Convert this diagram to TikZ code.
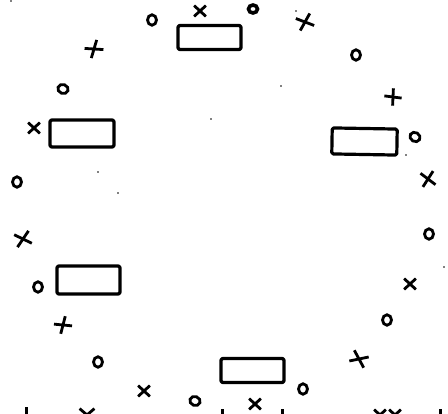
\documentclass[tikz,border=0pt]{standalone}
\usetikzlibrary{shapes.geometric,shapes.misc}
\begin{document}
\begin{tikzpicture}[x=1pt,y=-1pt,
  tablebox/.style={draw,line width=3.2pt,rounded corners=1.5pt,inner sep=0pt,line join=round},
  omark/.style={draw,ellipse,line width=2.8pt,minimum width=9pt,minimum height=10.5pt,inner sep=0pt},
  xmark/.style={draw,cross out,line width=2.8pt,minimum width=9pt,minimum height=8pt,inner sep=0pt},
  speck/.style={fill,circle,inner sep=0pt,minimum size=1.8pt}]
\useasboundingbox (0,0) rectangle (448,414);
\clip (0,0) rectangle (448,414);
% tables
\node[tablebox,minimum width=63pt,minimum height=24pt] (t1) at (209.5,37.5) {};
\node[tablebox,minimum width=64pt,minimum height=27pt] (t2) at (82,133.5) {};
\node[tablebox,minimum width=65pt,minimum height=26pt,rotate=-1] (t3) at (364.5,141.5) {};
\node[tablebox,minimum width=63pt,minimum height=28pt] (t4) at (88.5,280) {};
\node[tablebox,minimum width=63pt,minimum height=24pt] (t5) at (252.5,370.5) {};
% o marks
\node[omark] (o1) at (152,20) {};
\node[omark,line width=3.6pt,minimum width=9pt,minimum height=8pt] (o2) at (253,9) {};
\node[omark] (o3) at (356,55) {};
\node[omark,rotate=70] (o4) at (63,89) {};
\node[omark,rotate=60] (o5) at (415,137) {};
\node[omark] (o6) at (17,182) {};
\node[omark] (o7) at (429,234) {};
\node[omark] (o8) at (38,287) {};
\node[omark] (o9) at (387,320) {};
\node[omark] (o10) at (98,362) {};
\node[omark] (o11) at (303,389) {};
\node[omark,rotate=70] (o12) at (195,401) {};
% x marks
\node[xmark] (x1) at (200,11) {};
\node[xmark,rotate=20,minimum width=12pt,minimum height=10pt] (x2) at (305,22) {};
\node[xmark,rotate=35,minimum width=12pt,minimum height=9pt] (x3) at (94,49) {};
\node[xmark,rotate=40,minimum width=9pt,minimum height=10pt] (x4) at (393,97) {};
\node[xmark] (x5) at (34,128) {};
\node[xmark,rotate=10,minimum width=10pt,minimum height=11pt] (x6) at (428,179) {};
\node[xmark,rotate=15,minimum width=12pt,minimum height=10pt] (x7) at (23,239) {};
\node[xmark] (x8) at (410,284) {};
\node[xmark,rotate=35,minimum width=11pt,minimum height=9pt] (x9) at (63,325) {};
\node[xmark,rotate=-25,minimum width=13pt,minimum height=9pt] (x10) at (359,359) {};
\node[xmark] (x11) at (144,391) {};
\node[xmark] (x12) at (255,404) {};
% fragments cut by the lower edge
\node[xmark,minimum width=12pt,minimum height=10pt] (f1) at (87,415) {};
\node[xmark] (f2) at (380,415) {};
\node[xmark] (f3) at (395,415) {};
\node[fill,minimum width=3pt,minimum height=7pt,inner sep=0pt] (f4) at (26,411) {};
\node[fill,minimum width=3pt,minimum height=5pt,inner sep=0pt] (f5) at (222,412) {};
\node[fill,minimum width=3pt,minimum height=5pt,inner sep=0pt] (f6) at (282,412) {};
\node[fill,minimum width=3pt,minimum height=5pt,inner sep=0pt] (f7) at (440,412) {};
% specks
\node[speck] (s1) at (11,1) {};
\node[speck] (s2) at (98,172) {};
\node[speck] (s3) at (118,193) {};
\node[speck] (s4) at (211,119) {};
\node[speck] (s5) at (281,86) {};
\node[speck] (s6) at (406,155) {};
\node[speck] (s7) at (296,11) {};
\node[speck] (s8) at (444,267) {};
\end{tikzpicture}
\end{document}
